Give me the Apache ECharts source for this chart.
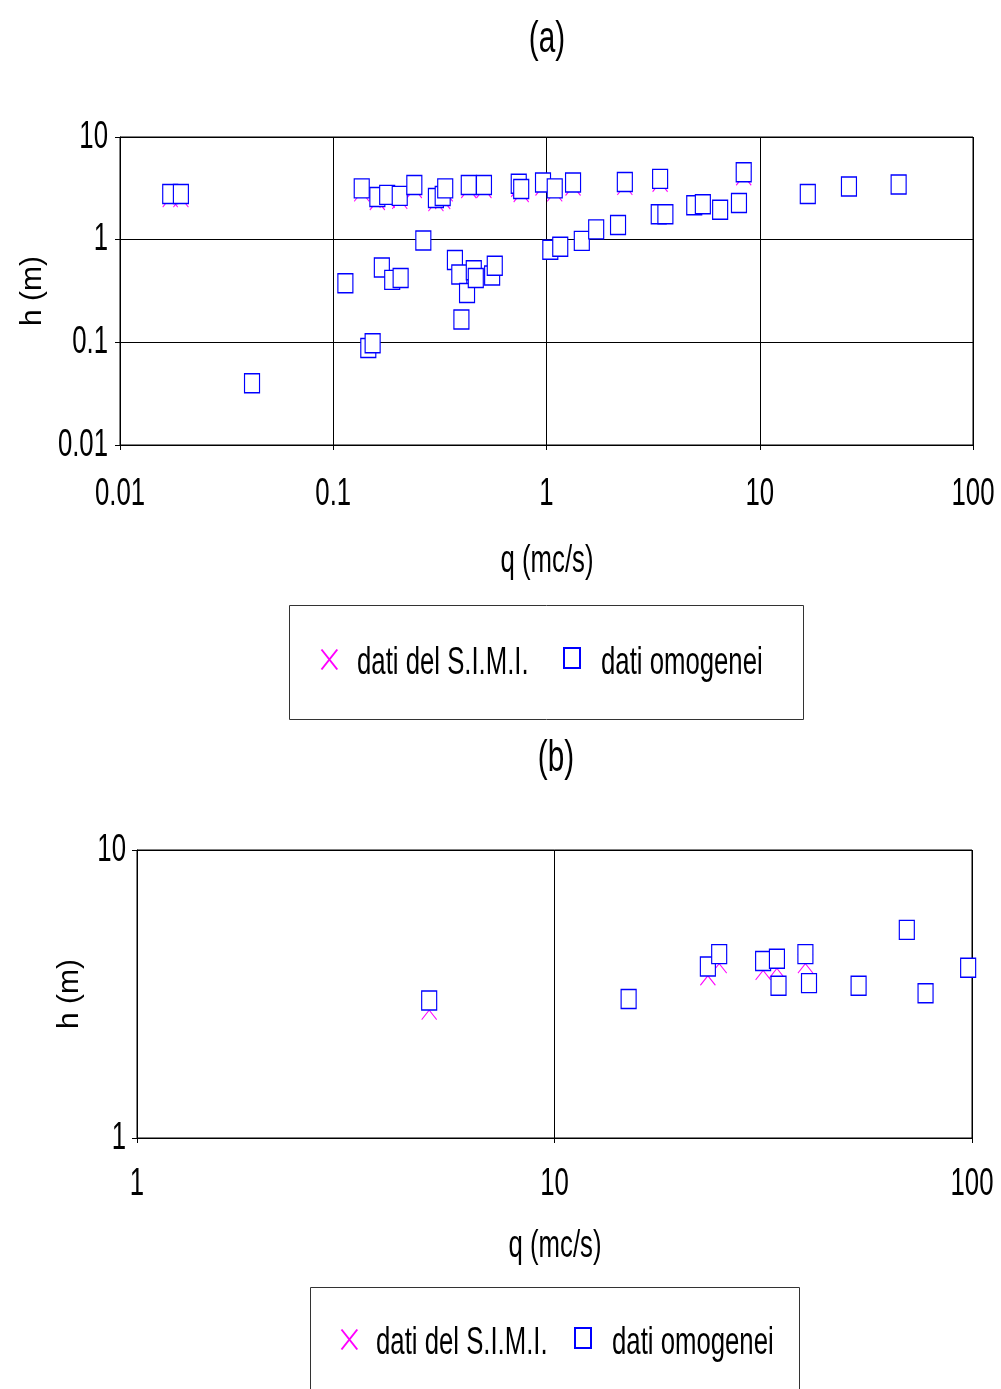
<!DOCTYPE html>
<html>
<head>
<meta charset="utf-8">
<script src="https://cdn.jsdelivr.net/npm/echarts@6/dist/echarts.min.js"></script>
<style>
  body { margin: 0; background: #fff; }
  #chart { width: 1001px; height: 1389px; }
</style>
</head>
<body>
<div id="chart"></div>
<script>
// chart (a): portata q (mc/s) vs altezza h (m)
const qA = [0.0172, 0.0193, 0.0416, 0.114, 0.146, 0.153, 0.136, 0.161, 0.169, 0.179, 0.189,
  0.205, 0.207, 0.240, 0.2645, 0.303, 0.326, 0.335, 0.372, 0.390, 0.399, 0.424, 0.432, 0.456,
  0.466, 0.509, 0.556, 0.572, 0.741, 0.761, 0.963, 1.042, 1.093, 1.16, 1.332, 1.464, 1.71,
  2.165, 2.33, 3.36, 3.41, 3.61, 4.93, 5.41, 6.52, 7.99, 8.41, 16.8, 26.2, 44.8];
const hOmogA = [2.78, 2.78, 0.040, 0.376, 0.088, 0.098, 3.16, 2.60, 0.535, 2.73, 0.406,
  2.67, 0.423, 3.40, 0.98, 2.54, 2.66, 3.16, 0.633, 0.457, 0.167, 0.302, 3.40, 0.504,
  0.423, 3.40, 0.447, 0.556, 3.50, 3.11, 3.60, 0.797, 3.16, 0.853, 3.60, 0.973, 1.26,
  1.39, 3.65, 1.77, 3.91, 1.77, 2.16, 2.21, 1.96, 2.28, 4.53, 2.78, 3.30, 3.45];
const hSimiA = [2.57, 2.57, 0.040, 0.376, 0.088, 0.098, 2.92, 2.41, 0.535, 2.53, 0.406,
  2.47, 0.423, 3.15, 0.98, 2.35, 2.46, 2.92, 0.633, 0.457, 0.167, 0.302, 3.15, 0.504,
  0.423, 3.15, 0.447, 0.556, 3.24, 2.88, 3.33, 0.797, 2.92, 0.853, 3.33, 0.973, 1.26,
  1.39, 3.38, 1.77, 3.62, 1.77, 2.16, 2.21, 1.96, 2.28, 4.19, 2.78, 3.30, 3.45];

// chart (b)
const qB = [5.01, 15.05, 23.3, 24.8, 31.6, 34.1, 34.4, 39.9, 40.7, 53.5, 69.8, 77.4, 97.9];
const hOmogB = [3.00, 3.04, 3.94, 4.35, 4.12, 4.19, 3.38, 4.35, 3.45, 3.38, 5.28, 3.18, 3.90];
const hSimiB = [2.78, 3.04, 3.66, 4.03, 3.82, 3.88, 3.38, 4.03, 3.45, 3.38, 5.28, 3.18, 3.90];

const xTicksA = ['0.01', '0.1', '1', '10', '100'];
const yTicksA = ['0.01', '0.1', '1', '10'];
const xTicksB = ['1', '10', '100'];
const yTicksB = ['1', '10'];

const FONT = "'Liberation Sans', Arial, sans-serif";
const SIMI = 'dati del S.I.M.I.';
const OMOG = 'dati omogenei';
const crossPath = 'path://M0,0L15,19M15,0L0,19';

const pairs = (xs, ys) => xs.map((x, i) => [x, ys[i]]);

// the original uses a very condensed face: squeeze Liberation Sans horizontally
function narrowText(text, x, y, size, align) {
  return {
    type: 'text', x: x, y: y, scaleX: 0.66, z: 10,
    style: {
      text: text, font: size + 'px ' + FONT, fill: '#000',
      textAlign: align || 'center', textVerticalAlign: 'middle'
    }
  };
}

function xAxisCfg(grid, min, max) {
  return {
    gridIndex: grid, type: 'log', logBase: 10, min: min, max: max,
    axisLine: { show: true, lineStyle: { color: '#000', width: 1 } },
    axisTick: { show: true, length: 5, lineStyle: { color: '#000' } },
    splitLine: { show: true, lineStyle: { color: '#000', width: 1 } },
    axisLabel: { show: false }
  };
}

function yAxisCfg(grid, min, max, gap) {
  return {
    gridIndex: grid, type: 'log', logBase: 10, min: min, max: max,
    axisLine: { show: true, lineStyle: { color: '#000', width: 1 } },
    axisTick: { show: true, length: 5, lineStyle: { color: '#000' } },
    splitLine: { show: true, lineStyle: { color: '#000', width: 1 } },
    axisLabel: { show: false },
    name: 'h (m)', nameLocation: 'middle', nameGap: gap,
    nameTextStyle: { color: '#000', fontFamily: FONT, fontSize: 30 }
  };
}

function simiSeries(idx, data) {
  return {
    name: SIMI, type: 'scatter', xAxisIndex: idx, yAxisIndex: idx, data: data,
    symbol: crossPath, symbolSize: [15, 19], z: 2,
    itemStyle: { color: 'none', borderColor: '#ff00ff', borderWidth: 1.1, opacity: 1 }
  };
}

function omogSeries(idx, data) {
  return {
    name: OMOG, type: 'scatter', xAxisIndex: idx, yAxisIndex: idx, data: data,
    symbol: 'rect', symbolSize: [15, 19], z: 3,
    itemStyle: { color: '#fff', borderColor: '#0000ff', borderWidth: 1.3, opacity: 1 }
  };
}

function legendCfg(name, cx, cy) {
  return {
    data: [name], left: cx - 8, top: cy - 10, padding: 0,
    itemWidth: 16, itemHeight: 20, selectedMode: false,
    formatter: () => ''
  };
}

const chart = echarts.init(document.getElementById('chart'));
chart.setOption({
  animation: false,
  backgroundColor: '#fff',
  grid: [
    { left: 120, top: 137, width: 853, height: 308, show: true, borderColor: '#000', borderWidth: 1, outerBoundsMode: 'none' },
    { left: 137, top: 850, width: 835, height: 288, show: true, borderColor: '#000', borderWidth: 1, outerBoundsMode: 'none' }
  ],
  xAxis: [xAxisCfg(0, 0.01, 100), xAxisCfg(1, 1, 100)],
  yAxis: [yAxisCfg(0, 0.01, 10, 72), yAxisCfg(1, 1, 10, 52)],
  legend: [
    legendCfg(SIMI, 327, 657),
    legendCfg(OMOG, 571, 657),
    legendCfg(SIMI, 347, 1337),
    legendCfg(OMOG, 582, 1337)
  ],
  series: [
    simiSeries(0, pairs(qA, hSimiA)),
    omogSeries(0, pairs(qA, hOmogA)),
    simiSeries(1, pairs(qB, hSimiB)),
    omogSeries(1, pairs(qB, hOmogB))
  ]
});

// tick labels placed through the axis scales
const texts = [];
xTicksA.forEach(t => {
  const px = chart.convertToPixel({ xAxisIndex: 0 }, Number(t));
  texts.push(narrowText(t, px, 494, 39));
});
xTicksB.forEach(t => {
  const px = chart.convertToPixel({ xAxisIndex: 1 }, Number(t));
  texts.push(narrowText(t, px, 1184, 39));
});
yTicksA.forEach(t => {
  const py = chart.convertToPixel({ yAxisIndex: 0 }, Number(t));
  texts.push(narrowText(t, 108, py, 39, 'right'));
});
yTicksB.forEach(t => {
  const py = chart.convertToPixel({ yAxisIndex: 1 }, Number(t));
  texts.push(narrowText(t, 126, py, 39, 'right'));
});

chart.setOption({
  graphic: texts.concat([
    narrowText('(a)', 547, 40, 45),
    narrowText('(b)', 556, 759, 45),
    narrowText('q (mc/s)', 547, 561, 39),
    narrowText('q (mc/s)', 555, 1246, 39),
    narrowText(SIMI, 357, 663, 39, 'left'),
    narrowText(OMOG, 601, 663, 39, 'left'),
    narrowText(SIMI, 376, 1343, 39, 'left'),
    narrowText(OMOG, 612, 1343, 39, 'left'),
    { type: 'rect', shape: { x: 289.5, y: 605.5, width: 514, height: 114 }, style: { fill: 'none', stroke: '#333', lineWidth: 1 } },
    { type: 'rect', shape: { x: 310.5, y: 1287.5, width: 489, height: 130 }, style: { fill: 'none', stroke: '#333', lineWidth: 1 } }
  ])
});
</script>
</body>
</html>
